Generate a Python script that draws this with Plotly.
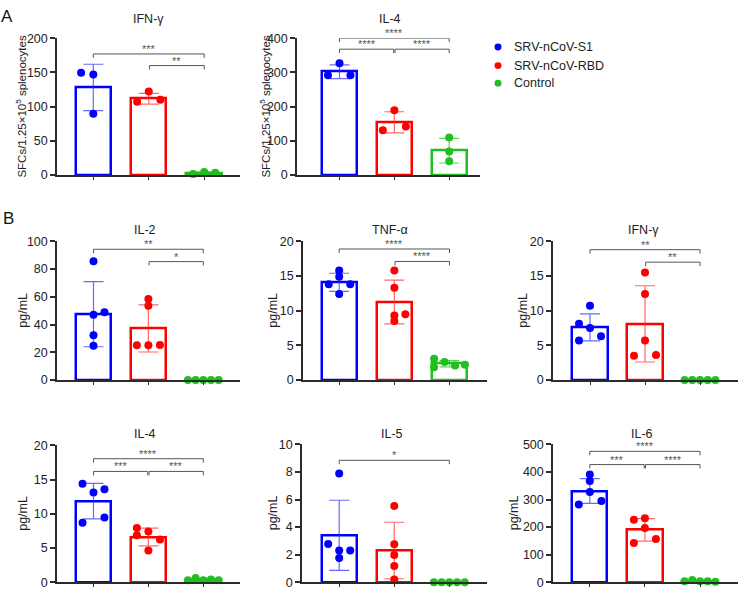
import plotly.graph_objects as go

W, H = 740, 596
FONT = "Arial, Liberation Sans, sans-serif"

groups = ["SRV-nCoV-S1", "SRV-nCoV-RBD", "Control"]
colors = ["#0000ff", "#ff0000", "#1fbf1f"]
err_colors = ["rgba(40,40,255,0.7)", "rgba(255,40,40,0.7)", "rgba(30,190,30,0.7)"]

titles = ["IFN-γ", "IL-4", "IL-2", "TNF-α", "IFN-γ", "IL-4", "IL-5", "IL-6"]
y_max = [200, 400, 100, 20, 20, 20, 10, 500]
y_dtick = [50, 100, 20, 5, 5, 5, 2, 100]

# Panel A: IFN-γ ELISpot
a_ifng_means = [128, 111.5, 3]
a_ifng_sd = [34, 8, 1.5]
a_ifng_pts = [[149.5, 147, 89.5], [122, 107, 110], [1.5, 4.3, 3.3]]
a_ifng_off = [[-0.22, 0, 0], [0, -0.21, 0.21], [-0.2, 0, 0.2]]
a_ifng_sig = [(0, 2, 177, "***"), (1, 2, 160, "**")]

# Panel A: IL-4 ELISpot
a_il4_means = [302, 154, 71]
a_il4_sd = [20, 31, 36]
a_il4_pts = [[327, 292, 292], [189.5, 130.5, 142], [109.5, 68.6, 40]]
a_il4_off = [[0, -0.21, 0.2], [0, -0.21, 0.21], [0, 0, 0]]
a_il4_sig = [(0, 2, 400, "****"), (0, 1, 368, "****"), (1, 2, 368, "****")]

# Panel B: IL-2
b_il2_means = [47.5, 37.2, 0]
b_il2_sd = [23.5, 17, 0]
b_il2_pts = [[85.6, 47, 48.8, 32.3, 24.8], [58.5, 53.5, 25, 25, 25.2], [0, 0, 0, 0, 0]]
b_il2_off = [[0, 0, 0.2, 0, 0], [0, 0, -0.21, 0, 0.21], [-0.28, -0.14, 0, 0.14, 0.28]]
b_il2_sig = [(0, 2, 94.3, "**"), (1, 2, 85.4, "*")]

# Panel B: TNF-α
b_tnf_means = [14.1, 11.25, 2.35]
b_tnf_sd = [1.3, 3.15, 0.45]
b_tnf_pts = [[15.8, 14.9, 13.8, 13.8, 12.4], [15.8, 13.3, 9.3, 9.5, 8.5], [3.06, 1.84, 2.6, 2.1, 2.2]]
b_tnf_off = [[0, 0, -0.19, 0.2, 0], [0, 0, 0, 0.2, 0], [-0.28, -0.28, -0.09, 0.1, 0.28]]
b_tnf_sig = [(0, 2, 18.9, "****"), (1, 2, 17.1, "****")]

# Panel B: IFN-γ
b_ifng_means = [7.6, 8.1, 0]
b_ifng_sd = [1.95, 5.5, 0]
b_ifng_pts = [[10.7, 8.1, 7.5, 6.3, 5.7], [15.5, 12.4, 5.7, 3.5, 3.6], [0, 0, 0, 0, 0]]
b_ifng_off = [[0, -0.2, 0, 0.2, -0.2], [0, 0, 0, -0.2, 0.2], [-0.28, -0.14, 0, 0.14, 0.28]]
b_ifng_sig = [(0, 2, 18.8, "**"), (1, 2, 17.0, "**")]

# Panel B: IL-4
b_il4_means = [11.85, 6.6, 0.35]
b_il4_sd = [2.6, 1.3, 0.1]
b_il4_pts = [[14.4, 13.1, 13.6, 9.46, 8.7], [7.94, 6.86, 7.42, 6.24, 4.63], [0.28, 0.6, 0.28, 0.38, 0.28]]
b_il4_off = [[-0.2, 0, 0.2, 0.2, -0.2], [-0.21, -0.21, 0, 0.21, 0], [-0.28, -0.14, 0, 0.14, 0.28]]
b_il4_sig = [(0, 2, 18.06, "****"), (0, 1, 16.2, "***"), (1, 2, 16.2, "***")]

# Panel B: IL-5
b_il5_means = [3.4, 2.3, 0]
b_il5_sd = [2.55, 2.05, 0]
b_il5_pts = [[7.9, 2.78, 2.3, 2.3, 1.76], [5.53, 2.75, 1.98, 1.18, 0.19], [0, 0, 0, 0, 0]]
b_il5_off = [[0, -0.2, 0, 0.2, 0], [0, 0, 0, 0, 0], [-0.28, -0.14, 0, 0.14, 0.28]]
b_il5_sig = [(0, 2, 8.85, "*")]

# Panel B: IL-6
b_il6_means = [331, 190, 4]
b_il6_sd = [45, 41, 2.5]
b_il6_pts = [[390.6, 367, 327, 295, 282], [227, 232, 196.5, 156.5, 142], [3.5, 8, 3.5, 3.5, 1.2]]
b_il6_off = [[0, 0, 0, 0.21, -0.2], [-0.2, 0, 0, 0.2, -0.2], [-0.28, -0.14, 0, 0.14, 0.28]]
b_il6_sig = [(0, 2, 475, "****"), (0, 1, 427, "***"), (1, 2, 427, "****")]

means = [a_ifng_means, a_il4_means, b_il2_means, b_tnf_means, b_ifng_means, b_il4_means, b_il5_means, b_il6_means]
sds = [a_ifng_sd, a_il4_sd, b_il2_sd, b_tnf_sd, b_ifng_sd, b_il4_sd, b_il5_sd, b_il6_sd]
pts = [a_ifng_pts, a_il4_pts, b_il2_pts, b_tnf_pts, b_ifng_pts, b_il4_pts, b_il5_pts, b_il6_pts]
offs = [a_ifng_off, a_il4_off, b_il2_off, b_tnf_off, b_ifng_off, b_il4_off, b_il5_off, b_il6_off]
sigs = [a_ifng_sig, a_il4_sig, b_il2_sig, b_tnf_sig, b_ifng_sig, b_il4_sig, b_il5_sig, b_il6_sig]

# layout geometry in pixels: left, right, top, bottom, first centre, last centre, title x, title y
geom = [
    (57, 240, 32, 172, 93.3, 204.2, 148, 12),
    (297, 480, 32, 172, 339.5, 449.2, 390, 12),
    (57, 240, 240, 382, 93.5, 203.3, 145, 228),
    (303, 487, 240, 382, 339.2, 449.5, 390, 228),
    (553, 738, 240, 382, 590, 700, 643, 228),
    (57, 240, 449, 589, 93.5, 203.3, 145, 437),
    (302, 487, 448, 589, 339.2, 449.3, 392, 437),
    (553, 738, 448, 589, 589.8, 700, 642, 437),
]
ylab_x = [21, 265, 23, 273, 523, 23, 273, 514]
ylab_txt = ["SFCs/1.25×10<sup>5</sup> splenocytes"] * 2 + ["pg/mL"] * 6

AX = "#2b2b2b"
SIG = "#555555"

fig = go.Figure()
layout = dict(
    width=W, height=H, margin=dict(l=0, r=0, t=0, b=0),
    paper_bgcolor="white", plot_bgcolor="white",
    showlegend=False, font=dict(family=FONT, color="#222"),
    bargap=0,
)
annotations = []
shapes = []

for p in range(8):
    L, R, T, B, c0, c2, tx, ty = geom[p]
    unit = (c2 - c0) / 2
    xr = [(L - c0) / unit, (R - c0) / unit]
    k = "" if p == 0 else str(p + 1)
    xa, ya = "x" + k, "y" + k
    layout["xaxis" + k] = dict(
        domain=[L / W, R / W], range=xr, anchor=ya,
        showline=True, linecolor=AX, linewidth=1.5,
        ticks="outside", ticklen=3, tickwidth=1, tickcolor=AX,
        tickvals=[0, 1, 2], showticklabels=False,
        showgrid=False, zeroline=False, fixedrange=True,
    )
    layout["yaxis" + k] = dict(
        domain=[1 - B / H, 1 - T / H], range=[0, y_max[p]], anchor=xa,
        showline=True, linecolor=AX, linewidth=1.5,
        ticks="outside", ticklen=5, tickwidth=1.5, tickcolor=AX,
        dtick=y_dtick[p], tick0=0, tickfont=dict(size=12.5, color="#222"),
        showgrid=False, zeroline=False, fixedrange=True,
    )
    for g in range(3):
        fig.add_trace(go.Bar(
            x=[g], y=[means[p][g]], width=0.64, xaxis=xa, yaxis=ya,
            name=groups[g],
            marker=dict(color="rgba(255,255,255,0)", line=dict(color=colors[g], width=2.5)),
            error_y=dict(type="data", array=[sds[p][g]], visible=True,
                         color=err_colors[g], thickness=1.2, width=10),
            hoverinfo="skip",
        ))
    for g in range(3):
        xs = [g + o for o in offs[p][g]]
        fig.add_trace(go.Scatter(
            x=xs, y=pts[p][g], mode="markers", xaxis=xa, yaxis=ya,
            marker=dict(color=colors[g], size=8), cliponaxis=False,
            name=groups[g], hoverinfo="skip",
        ))
    tick = 4 / (B - T) * y_max[p]
    for (i, j, yv, txt) in sigs[p]:
        gap = 0.012
        x0 = i + (gap if i == 1 else 0)
        x1 = j - (gap if j == 1 else 0)
        fig.add_trace(go.Scatter(
            x=[x0, x0, x1, x1], y=[yv - tick, yv, yv, yv - tick],
            mode="lines", line=dict(color=SIG, width=1), xaxis=xa, yaxis=ya,
            cliponaxis=False, hoverinfo="skip",
        ))
        annotations.append(dict(
            x=(x0 + x1) / 2, y=yv, xref=xa, yref=ya, text=txt, showarrow=False,
            yanchor="bottom", yshift=-3, font=dict(size=11, color=SIG, family=FONT),
        ))
    annotations.append(dict(
        x=tx / W, y=1 - ty / H, xref="paper", yref="paper", text=titles[p],
        showarrow=False, xanchor="center", yanchor="middle",
        font=dict(size=12.5, color="#222", family=FONT),
    ))
    annotations.append(dict(
        x=ylab_x[p] / W, y=1 - (T + B) / 2 / H, xref="paper", yref="paper",
        text=ylab_txt[p], textangle=-90, showarrow=False,
        xanchor="center", yanchor="middle",
        font=dict(size=12.5 if p > 1 else 11.5, color="#222", family=FONT),
    ))

# panel letters
annotations.append(dict(x=7 / W, y=1 - 10 / H, xref="paper", yref="paper", text="A",
                        showarrow=False, xanchor="center", yanchor="middle",
                        font=dict(size=17, color="#111", family=FONT)))
annotations.append(dict(x=8 / W, y=1 - 217 / H, xref="paper", yref="paper", text="B",
                        showarrow=False, xanchor="center", yanchor="middle",
                        font=dict(size=17, color="#111", family=FONT)))

# legend
leg_y = [41, 60, 78]
for g in range(3):
    cx, cy = 498, leg_y[g]
    shapes.append(dict(type="circle", xref="paper", yref="paper",
                       x0=(cx - 3.5) / W, x1=(cx + 3.5) / W,
                       y0=1 - (cy + 3.5) / H, y1=1 - (cy - 3.5) / H,
                       fillcolor=colors[g], line=dict(width=0)))
    annotations.append(dict(x=512 / W, y=1 - cy / H, xref="paper", yref="paper",
                            text=groups[g], showarrow=False, xanchor="left", yanchor="middle",
                            font=dict(size=12.5, color="#222", family=FONT)))

layout["annotations"] = annotations
layout["shapes"] = shapes
fig.update_layout(**layout)
fig.write_html(
    "out.html",
    config={"displayModeBar": False},
    post_script="document.body.style.margin='0';document.body.style.padding='0';document.body.style.overflow='hidden';",
)
